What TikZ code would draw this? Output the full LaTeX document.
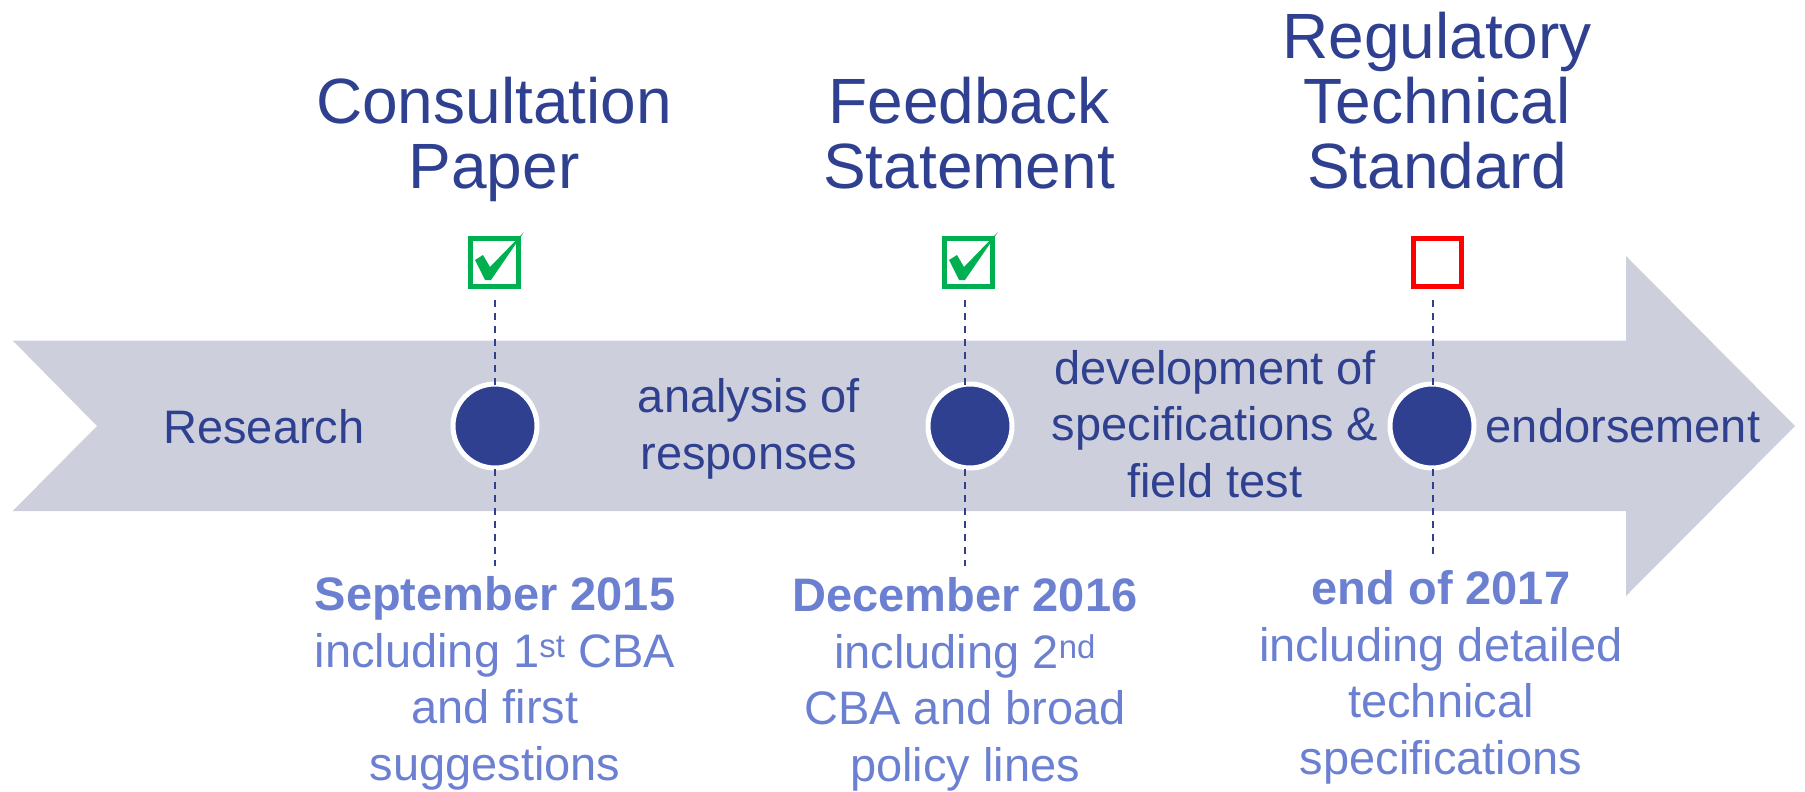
\documentclass[tikz,border=0pt]{standalone}
\usepackage{fontspec}
\setmainfont{Liberation Sans}
\definecolor{dblue}{HTML}{2E408F}
\definecolor{lblue}{HTML}{6C80D2}
\definecolor{arrowgray}{HTML}{CDD0DC}
\definecolor{cgreen}{HTML}{00B050}
\definecolor{cred}{HTML}{FF0000}
\begin{document}
\begin{tikzpicture}[x=1pt,y=-1pt,
 titletext/.style={text=dblue, font=\fontsize{64}{65}\selectfont, align=center, anchor=base, inner sep=0pt},
 bodytext/.style={text=dblue, font=\fontsize{47}{56.5}\selectfont, align=center, anchor=base, inner sep=0pt},
 datetext/.style={text=lblue, font=\fontsize{47}{56.5}\selectfont, align=center, anchor=base, inner sep=0pt},
 milestone/.style={circle, fill=dblue, draw=white, line width=5pt, minimum size=84pt, inner sep=0pt},
 donebox/.style={draw=cgreen, line width=5pt, minimum size=48pt, inner sep=0pt},
 openbox/.style={draw=cred, line width=5pt, minimum size=48pt, inner sep=0pt},
 guide/.style={draw=dblue, line width=2pt, dash pattern=on 7pt off 6pt},
 checkmark/.style={fill=cgreen},
]
\useasboundingbox (0,0) rectangle (1805,792);
% big arrow
\fill[arrowgray] (12.7,340.5) -- (1626,340.5) -- (1626,256) -- (1795,426)
  -- (1626,596) -- (1626,511) -- (12.7,511) -- (97,426) -- cycle;

% titles
\node[titletext] (t1) at (494,188) {Consultation\\Paper};
\node[titletext] (t2) at (969,188) {Feedback\\Statement};
\node[titletext] (t3) at (1437,188) {Regulatory\\Technical\\Standard};

% checkboxes
\node[donebox] (cb1) at (494,262) {};
\node[donebox] (cb2) at (968,262) {};
\node[openbox] (cb3) at (1437,262) {};
\foreach \b in {cb1,cb2}{
  \begin{scope}[shift={(\b.center)}]
    \fill[checkmark] (-19,-2) -- (-11,-7) -- (-4,5) -- (30,-30) -- (-3,18) -- (-9,18) -- cycle;
  \end{scope}
}

% milestones
\node[milestone] (m1) at (495,426) {};
\node[milestone] (m2) at (970,426) {};
\node[milestone] (m3) at (1432,426) {};

% guide lines
\coordinate (g1a) at (495,300); \coordinate (g1b) at (495,566);
\coordinate (g2a) at (965,300); \coordinate (g2b) at (965,566);
\coordinate (g3a) at (1433,300); \coordinate (g3b) at (1433,560);
\draw[guide] (g1a) -- (g1b);
\draw[guide] (g2a) -- (g2b);
\draw[guide] (g3a) -- (g3b);

% phase texts
\node[bodytext] (p1) at (264,443) {Research};
\node[bodytext] (p2) at (749,469) {analysis of\\responses};
\node[bodytext] (p3) at (1215,497) {development of\\specifications \&\\field test};
\node[bodytext] (p4) at (1623,442) {endorsement};

% dates
\node[datetext] (d1) at (495,780) {\textbf{September 2015}\\including 1\textsuperscript{st} CBA\\and first\\suggestions};
\node[datetext] (d2) at (965,781) {\textbf{December 2016}\\including 2\textsuperscript{nd}\\CBA and broad\\policy lines};
\node[datetext] (d3) at (1441,774) {\textbf{end of 2017}\\including detailed\\technical\\specifications};
\end{tikzpicture}
\end{document}
